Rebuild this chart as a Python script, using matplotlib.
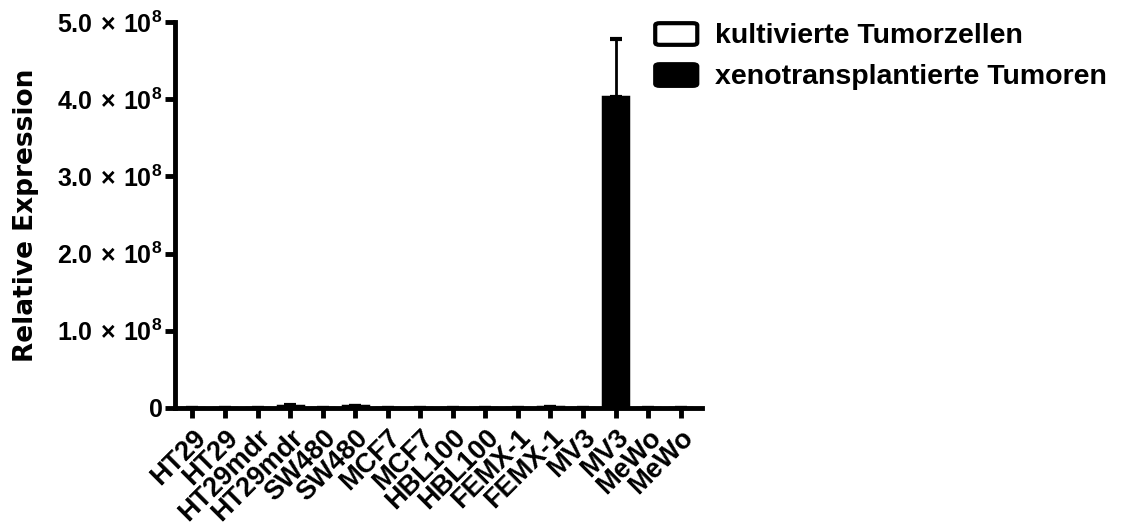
import matplotlib
matplotlib.use("Agg")
import matplotlib.pyplot as plt
import numpy as np
from matplotlib.patches import FancyBboxPatch

plt.rcParams['font.family'] = ['Liberation Sans', 'DejaVu Sans']
plt.rcParams['font.weight'] = 'bold'
plt.rcParams['mathtext.fontset'] = 'custom'
plt.rcParams['mathtext.rm'] = 'Liberation Sans'
plt.rcParams['mathtext.bf'] = 'Liberation Sans:bold'

# cell lines, each measured in culture and as xenograft (alternating bars)
labels = ["HT29", "HT29", "HT29mdr", "HT29mdr", "SW480", "SW480", "MCF7", "MCF7",
          "HBL100", "HBL100", "FEMX-1", "FEMX-1", "MV3", "MV3", "MeWo", "MeWo"]
values = [2.0e5, 6.0e5, 3.0e5, 3.2e6, 2.0e5, 2.6e6, 1.0e5, 4.0e5,
          1.0e5, 3.0e5, 2.0e5, 1.6e6, 3.0e5, 4.03e8, 1.0e5, 5.0e5]
errors = [0, 0, 0, 5.0e5, 0, 4.0e5, 0, 0,
          0, 0, 0, 3.0e5, 0, 0.75e8, 0, 0]
series = ["kultivierte Tumorzellen", "xenotransplantierte Tumoren"]
yticks = [0, 1e8, 2e8, 3e8, 4e8, 5e8]
ytick_labels = ["0"] + [r"%.1f$\hspace{0.12}\times\hspace{0.12}$10$^{\mathbf{8}}$" % (v / 1e8)
                        for v in yticks[1:]]

fig = plt.figure(figsize=(11.21, 5.28), dpi=100)
ax = fig.add_axes([0.156, 0.2273, 0.47, 0.731])

x = np.arange(len(labels))
faces = ["white" if i % 2 == 0 else "black" for i in x]
ax.bar(x, values, width=0.77, color=faces, edgecolor="black", linewidth=2.5, zorder=2)
ax.errorbar(x, values, yerr=[np.zeros(len(x)), errors], fmt="none",
            ecolor="black", elinewidth=2, capsize=4, capthick=3, zorder=1)

ax.set_xlim(-0.54, 15.65)
ax.set_ylim(0, 5e8)
ax.set_yticks(yticks)
ax.set_yticklabels(ytick_labels, fontsize=18, fontweight="bold")
ax.set_xticks(x)
ax.set_xticklabels(labels, rotation=45, ha="right", rotation_mode="anchor",
                   fontsize=19.5, fontweight="bold")
ax.set_ylabel("Relative Expression", fontsize=19, fontweight="bold",
              family="DejaVu Sans")

for side in ["top", "right"]:
    ax.spines[side].set_visible(False)
for side in ["left", "bottom"]:
    ax.spines[side].set_linewidth(3.5)
ax.tick_params(axis="both", width=3.5, length=7, pad=2)
ax.tick_params(axis="x", pad=5)

# keep the axis title at a fixed spot left of the tick labels
ax.yaxis.set_label_coords(-0.257, 0.5)

# legend drawn as rounded swatches next to the plot
for i, name in enumerate(series):
    yc = 0.9356 - i * 0.0777
    sw = FancyBboxPatch((0.586, yc - 0.019), 0.0345, 0.038,
                        boxstyle="round,pad=0.0015,rounding_size=0.004",
                        transform=fig.transFigure, facecolor="white" if i == 0 else "black",
                        edgecolor="black", linewidth=3)
    fig.patches.append(sw)
    fig.text(0.638, yc - 0.004, name, fontsize=20.5, fontweight="bold", va="center", ha="left")

fig.savefig("out.png", dpi=100)
